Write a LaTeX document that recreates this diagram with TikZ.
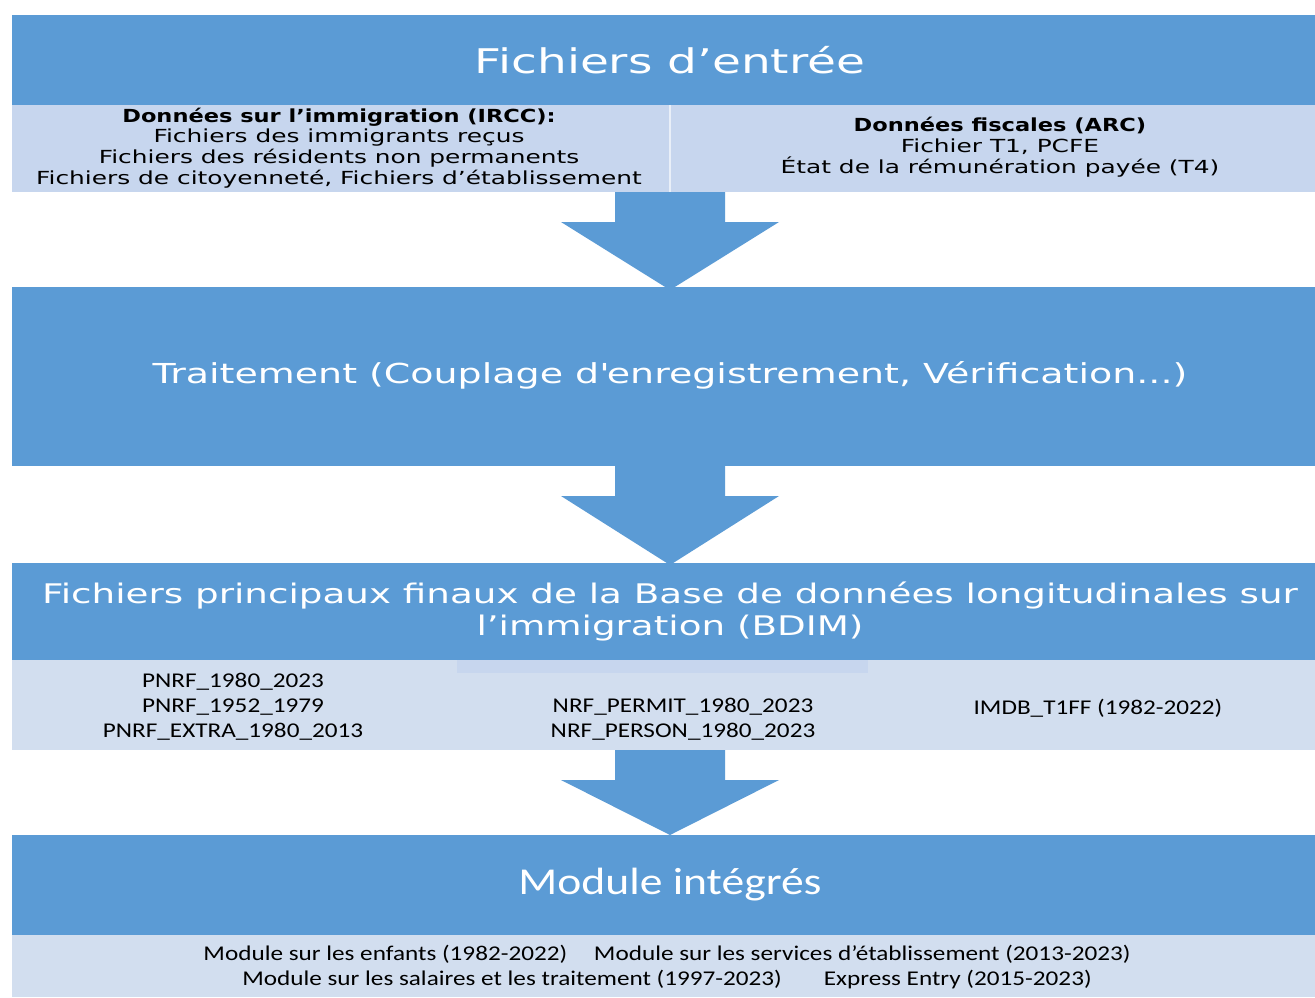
\documentclass[tikz,border=0pt]{standalone}
\usepackage{fontspec}
\setmainfont{DejaVu Sans}[FakeStretch=1.38, BoldFeatures={FakeStretch=1.25}]
\newfontfamily\calibri{Carlito}[FakeStretch=1.2]
\usetikzlibrary{calc}

\definecolor{bandblue}{HTML}{5B9BD5}
\definecolor{paleblue}{HTML}{C7D6EE}
\definecolor{paleblue2}{HTML}{D2DEEF}

\tikzset{
  bandtitle/.style={text=white, align=center},
  infotext/.style={text=black, align=center, font=\fontsize{18}{20.7}\selectfont},
  caltext/.style={text=black, align=center, font=\calibri\fontsize{21}{25}\selectfont},
}

% block arrow from a box bottom down to the tip
\newcommand{\blockarrow}[2]{%
  \fill[bandblue] ($(#1)+(-55,0)$) -- ($(#1)+(55,0)$) -- ($(#1)+(55,30)$)
    -- ($(#1)+(109,30)$) -- (#2) -- ($(#1)+(-109,30)$) -- ($(#1)+(-55,30)$) -- cycle;}

\begin{document}
\begin{tikzpicture}[x=1pt,y=-1pt]
    \useasboundingbox[fill=white] (0,0) rectangle (1315,997);

    % input files
    \fill[bandblue] (12,15) rectangle (1315,105);
    \fill[paleblue] (12,105) rectangle (1315,192);
    \draw[paleblue!40!white, line width=1.5pt] (670,105) -- (670,192);
    \node[bandtitle, font=\fontsize{34}{40}\selectfont] (input) at (670,60) {Fichiers d’entrée};
    \node[infotext] (ircc) at (339,148) {\textbf{Données sur l’immigration (IRCC):}\\
        Fichiers des immigrants reçus\\
        Fichiers des résidents non permanents\\
        Fichiers de citoyenneté, Fichiers d’établissement};
    \node[infotext] (arc) at (1000,147) {\textbf{Données fiscales (ARC)}\\
        Fichier T1, PCFE\\
        État de la rémunération payée (T4)};
    \coordinate (inputend) at (670,192);

    % processing
    \fill[bandblue] (12,287) rectangle (1315,466);
    \node[bandtitle, font=\fontsize{27.5}{30}\selectfont] (process) at (670,375) {Traitement (Couplage d\textquotesingle enregistrement, Vérification...)};
    \coordinate (processtop) at (670,290);
    \coordinate (processend) at (670,466);

    % final master files
    \fill[bandblue] (12,563) rectangle (1315,660);
    \fill[paleblue2] (12,660) rectangle (1315,750);
    \fill[paleblue] (457,660) rectangle (868,673);
    \node[bandtitle, font=\fontsize{27}{32}\selectfont] (master) at (670,611) {Fichiers principaux finaux de la Base de données longitudinales sur\\
        l’immigration (BDIM)};
    \node[caltext] (pnrf) at (233,707) {PNRF\_1980\_2023\\PNRF\_1952\_1979\\PNRF\_EXTRA\_1980\_2013};
    \node[caltext] (nrf) at (683,719) {NRF\_PERMIT\_1980\_2023\\NRF\_PERSON\_1980\_2023};
    \node[caltext] (imdb) at (1098,708) {IMDB\_T1FF (1982-2022)};
    \coordinate (mastertop) at (670,565);
    \coordinate (masterend) at (670,750);

    % integrated modules
    \fill[bandblue] (12,835) rectangle (1315,935);
    \fill[paleblue2] (12,935) rectangle (1315,997);
    \node[bandtitle, font=\calibri\fontsize{38}{40}\selectfont] (modules) at (670,885) {Module intégrés};
    \node[caltext] (modlist) at (667,967) {Module sur les enfants (1982-2022)\quad\ Module sur les services d’établissement (2013-2023)\\
        Module sur les salaires et les traitement (1997-2023)\qquad Express Entry (2015-2023)};
    \coordinate (modulestop) at (670,835);

    % draw arrows
    \blockarrow{inputend}{processtop}
    \blockarrow{processend}{mastertop}
    \blockarrow{masterend}{modulestop}
\end{tikzpicture}
\end{document}
